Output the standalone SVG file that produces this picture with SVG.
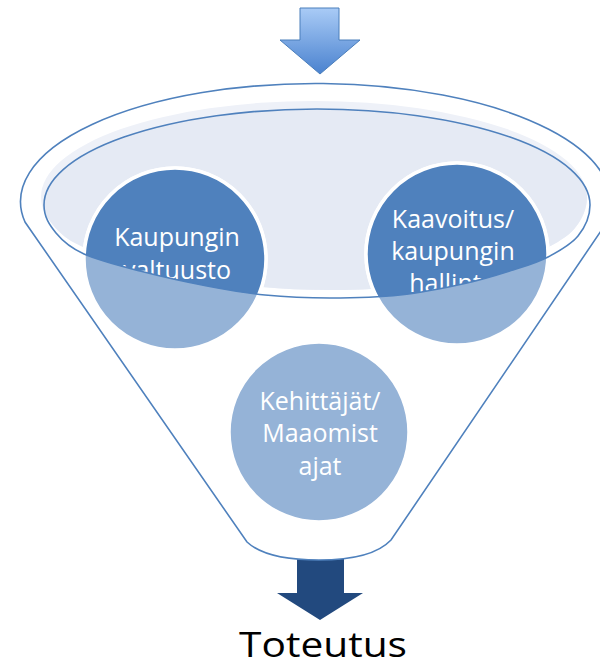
<svg xmlns="http://www.w3.org/2000/svg" width="600" height="672" viewBox="0 0 600 672">
  <style>
    .outline { fill: none; stroke: #4f81bd; stroke-width: 1.6; }
    .dark { fill: #4f81bd; stroke: #ffffff; stroke-width: 3.5; }
    .light { fill: #95b3d7; stroke: #ffffff; stroke-width: 3.5; }
    .lbl { font-family: "Open Sans", "Liberation Sans", sans-serif; font-size: 25px; fill: #ffffff; text-anchor: middle; }
    .big { font-family: "Open Sans", "Liberation Sans", sans-serif; font-size: 35px; fill: #000000; text-anchor: middle; }
  </style>
  <defs>
    <linearGradient id="gTop" x1="0" y1="0" x2="0" y2="1">
      <stop offset="0" stop-color="#a9cbf6"/>
      <stop offset="1" stop-color="#4a82cf"/>
    </linearGradient>
    <clipPath id="cInner">
      <path d="M44,205 A273,96 0 0 1 590,205 C590,217 585,227.3 578,236 C571,244.7 558.8,251.3 548,257 C537.2,262.7 526.5,265.7 513,270 C499.5,274.3 485.8,278.8 467,283 C448.2,287.2 422.8,292.5 400,295 C377.2,297.5 352.5,298 330,298 C307.5,298 285.5,297 265,295 C244.5,293 227.8,290 207,286 C186.2,282 160.5,276.3 140,271 C119.5,265.7 98,260.3 84,254 C70,247.7 62.7,241.2 56,233 C49.3,224.8 44,217 44,205 Z"/>
    </clipPath>
    <clipPath id="cFill">
      <path transform="translate(-3,-8)" d="M44,205 A273,96 0 0 1 590,205 C590,217 585,227.3 578,236 C571,244.7 558.8,251.3 548,257 C537.2,262.7 526.5,265.7 513,270 C499.5,274.3 485.8,278.8 467,283 C448.2,287.2 422.8,292.5 400,295 C377.2,297.5 352.5,298 330,298 C307.5,298 285.5,297 265,295 C244.5,293 227.8,290 207,286 C186.2,282 160.5,276.3 140,271 C119.5,265.7 98,260.3 84,254 C70,247.7 62.7,241.2 56,233 C49.3,224.8 44,217 44,205 Z"/>
    </clipPath>
  </defs>

  <g id="arrow-in">
    <path d="M300,8 H339 V40 H360 L320,74 L280,40 H300 Z" fill="url(#gTop)" stroke="#4a7ebb" stroke-width="1"/>
  </g>

  <g id="arrow-out">
    <path d="M297,556 H344 V593 H363 L320,620 L277,593 H297 Z" fill="#22497e"/>
  </g>

  <g id="funnel">
    <path d="M25,222 A295,118 0 1 1 603,228 L391,540 C375,557 345,560 319,560 C293,560 263,557 247,542 Z" fill="#ffffff" stroke="#4f81bd" stroke-width="1.6"/>
    <path transform="translate(-3,-8)" fill="#eef1f8" d="M44,205 A273,96 0 0 1 590,205 C590,217 585,227.3 578,236 C571,244.7 558.8,251.3 548,257 C537.2,262.7 526.5,265.7 513,270 C499.5,274.3 485.8,278.8 467,283 C448.2,287.2 422.8,292.5 400,295 C377.2,297.5 352.5,298 330,298 C307.5,298 285.5,297 265,295 C244.5,293 227.8,290 207,286 C186.2,282 160.5,276.3 140,271 C119.5,265.7 98,260.3 84,254 C70,247.7 62.7,241.2 56,233 C49.3,224.8 44,217 44,205 Z"/>
    <path clip-path="url(#cFill)" fill="#e5eaf4" d="M44,205 A273,96 0 0 1 590,205 C590,217 585,227.3 578,236 C571,244.7 558.8,251.3 548,257 C537.2,262.7 526.5,265.7 513,270 C499.5,274.3 485.8,278.8 467,283 C448.2,287.2 422.8,292.5 400,295 C377.2,297.5 352.5,298 330,298 C307.5,298 285.5,297 265,295 C244.5,293 227.8,290 207,286 C186.2,282 160.5,276.3 140,271 C119.5,265.7 98,260.3 84,254 C70,247.7 62.7,241.2 56,233 C49.3,224.8 44,217 44,205 Z"/>
  </g>

  <g id="node-valtuusto">
    <circle class="light" cx="175" cy="259" r="91"/>
    <g clip-path="url(#cInner)">
      <circle class="dark" cx="175" cy="259" r="91"/>
      <text class="lbl" x="177" y="246">Kaupungin</text>
      <text class="lbl" x="177" y="279">valtuusto</text>
    </g>
  </g>

  <g id="node-hallinto">
    <circle class="light" cx="457" cy="254" r="91"/>
    <g clip-path="url(#cInner)">
      <circle class="dark" cx="457" cy="254" r="91"/>
      <text class="lbl" x="453" y="228">Kaavoitus/</text>
      <text class="lbl" x="453" y="260">kaupungin</text>
      <text class="lbl" x="453" y="292">hallinto</text>
    </g>
  </g>

  <g id="funnel-rim">
    <path class="outline" d="M44,205 A273,96 0 0 1 590,205 C590,217 585,227.3 578,236 C571,244.7 558.8,251.3 548,257 C537.2,262.7 526.5,265.7 513,270 C499.5,274.3 485.8,278.8 467,283 C448.2,287.2 422.8,292.5 400,295 C377.2,297.5 352.5,298 330,298 C307.5,298 285.5,297 265,295 C244.5,293 227.8,290 207,286 C186.2,282 160.5,276.3 140,271 C119.5,265.7 98,260.3 84,254 C70,247.7 62.7,241.2 56,233 C49.3,224.8 44,217 44,205 Z"/>
  </g>

  <g id="node-maaomistajat">
    <circle class="light" cx="319" cy="432" r="90"/>
    <text class="lbl" x="320" y="410">Kehittäjät/</text>
    <text class="lbl" x="320" y="442">Maaomist</text>
    <text class="lbl" x="320" y="475">ajat</text>
  </g>

  <g id="label-toteutus">
    <text class="big" x="323" y="657" textLength="168" lengthAdjust="spacingAndGlyphs">Toteutus</text>
  </g>
</svg>
